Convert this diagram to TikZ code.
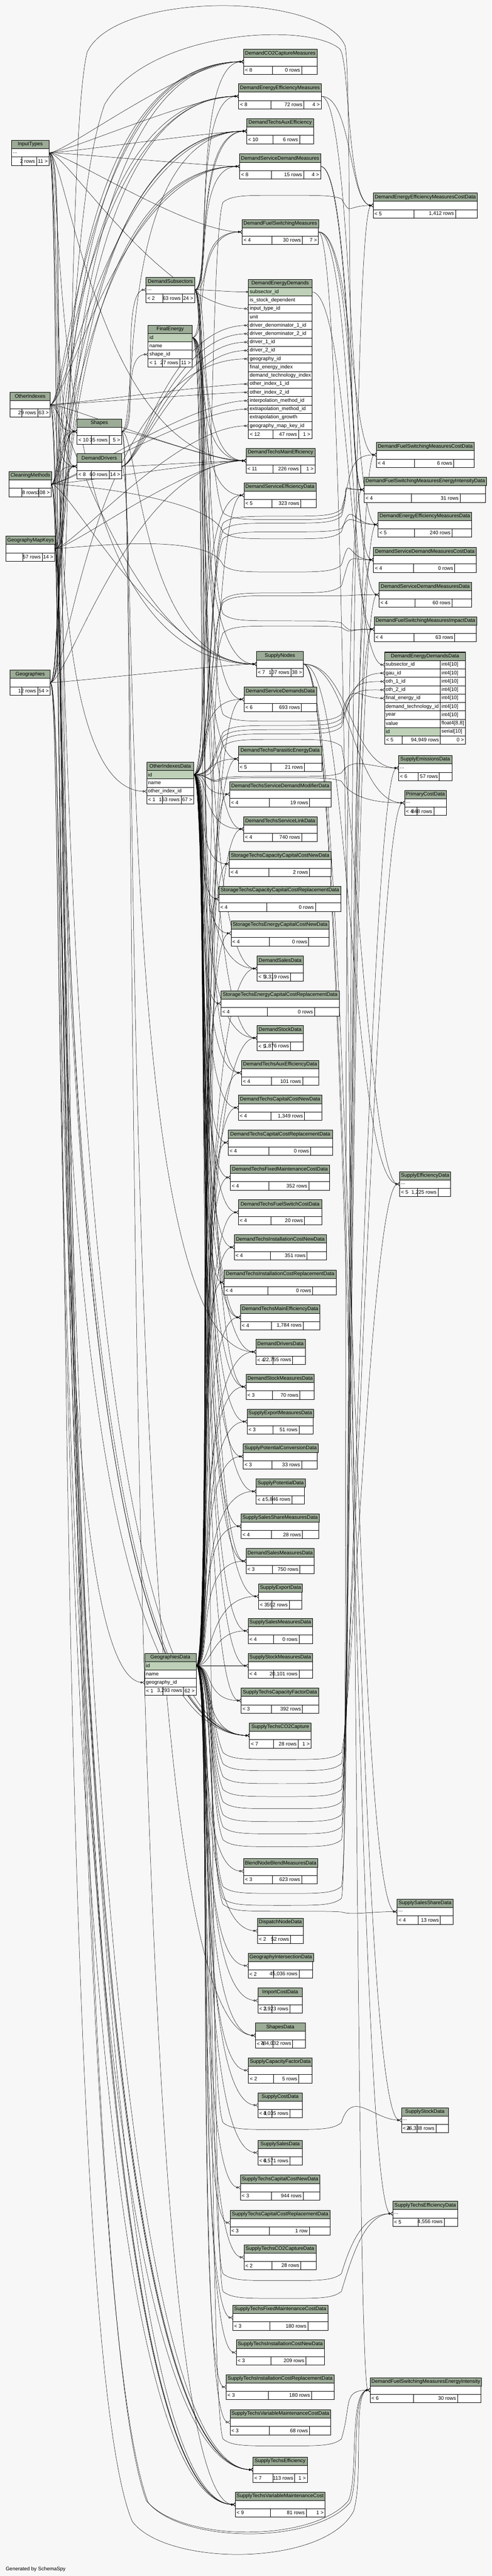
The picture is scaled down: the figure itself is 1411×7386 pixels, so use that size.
\documentclass[tikz,border=0pt]{standalone}
\usepackage{fontspec}
\setmainfont{Liberation Sans}
\usetikzlibrary{positioning,calc,arrows.meta}

\definecolor{hdrgreen}{HTML}{9BAB96}
\definecolor{keygreen}{HTML}{BED1B8}
\definecolor{pagebg}{HTML}{F7F7F7}

\newcommand{\tblfont}{\fontsize{11}{13}\selectfont}
\newcommand{\colcell}[2]{\makebox[#1][l]{#2}}
\newlength{\ftw}

\pgfdeclarelayer{bg}
\pgfdeclarelayer{links}
\pgfsetlayers{bg,links,main}

\tikzset{
  tbl/.style={draw=black, line width=0.6pt, inner xsep=3pt, inner ysep=0pt, outer sep=0pt,
    minimum height=18pt, font=\tblfont, anchor=north west},
  tblhead/.style={tbl, fill=hdrgreen},
  tblbody/.style={tbl, fill=white},
  tblkey/.style={tbl, fill=keygreen},
  fkline/.style={line width=0.55pt, -{Circle[open,length=4.5pt,width=4.5pt,line width=0.6pt]Straight Barb[reversed,length=4pt,width=7pt,line width=0.6pt]}},
  fkone/.style={line width=0.55pt, -{Circle[open,length=4.5pt,width=4.5pt,line width=0.6pt]Bar[width=7pt,line width=0.8pt]}}
}

% footer row: name, node above, width (px), left, rows, right
\newcommand{\dbfoot}[6]{%
  \settowidth{\ftw}{\tblfont #5}%
  \pgfmathsetmacro{\rwid}{max(36,0.21*#3)}%
  \pgfmathsetmacro{\mwid}{max(0.4*#3,\ftw/0.75+12)}%
  \node[tblbody, minimum width={#3*0.75pt}] (#1) at (#2.south west) {};
  \draw[line width=0.6pt] ($(#1.north east)+(-\rwid,0)$) -- ($(#1.south east)+(-\rwid,0)$);
  \draw[line width=0.6pt] ($(#1.north east)+(-\rwid-\mwid,0)$) -- ($(#1.south east)+(-\rwid-\mwid,0)$);
  \node[anchor=west, inner sep=0pt, font=\tblfont] (#1l) at ($(#1.west)+(4,0)$) {#4};
  \node[anchor=east, inner sep=0pt, font=\tblfont] (#1m) at ($(#1.east)+(-\rwid-4,0)$) {#5};
  \node[anchor=east, inner sep=0pt, font=\tblfont] (#1n) at ($(#1.east)+(-4,0)$) {#6};}

% table: name, x, y, width (px), title, body, left, rows, right
\newcommand{\dbtable}[9]{%
  \pgfmathsetmacro{\tblw}{#4*0.75-6}%
  \node[tblhead, minimum width={#4*0.75pt}] (#1) at (#2,#3) {#5};
  \node[tblbody] (#1r) at (#1.south west) {\colcell{\tblw pt}{#6}};
  \dbfoot{#1f}{#1r}{#4}{#7}{#8}{#9}}

% foreign keys
\newcommand{\fk}[3][fkline]{%
  \draw[#1] let \p1=(#2), \p2=(#3),
    \n1={min(0.8*(\x2-\x1)/0.75,0.3*abs(\y2-\y1)/0.75+50)} in
    (\p1) .. controls +(50,0) and +(-\n1,0) .. (\p2);}
\newcommand{\fkc}[4]{\draw[fkline] (#1) .. controls +(#3,0) and +(-#4,0) .. (#2);}
\newcommand{\fkvia}[5]{%
  \draw[fkline] (#1) .. controls +(50,0) and (600,#3+#4*120) .. (640,#3+#4*20)
    .. controls (665,#3) and (700,#3) .. (810,#3)
    .. controls (920,#3) and (955,#3) .. (980,#3+#5*20)
    .. controls (1010,#3+#5*120) and +(-80,0) .. (#2);}

\begin{document}
\begin{tikzpicture}[x=0.75pt,y=-0.75pt]
\useasboundingbox (0,0) rectangle (1411,7386);
\begin{pgfonlayer}{bg}
  \fill[pagebg] (0,0) rectangle (1411,7386);
\end{pgfonlayer}

% left side
\dbtable{it}{33}{402}{108}{InputTypes}{...}{}{2 rows}{11 >}
\dbtable{dsub}{419}{795}{140}{DemandSubsectors}{...}{< 2}{63 rows}{24 >}
\dbtable{oi}{29}{1124}{115}{OtherIndexes}{}{}{29 rows}{63 >}
\dbtable{sh}{221}{1201}{128}{Shapes}{}{< 10}{35 rows}{5 >}
\dbtable{dd}{221}{1301}{128}{DemandDrivers}{}{< 8}{60 rows}{14 >}
\dbtable{cm}{26}{1352}{121}{CleaningMethods}{}{}{8 rows}{108 >}
\dbtable{gmk}{17}{1537}{140}{GeographyMapKeys}{}{}{57 rows}{14 >}
\dbtable{geo}{29}{1921}{115}{Geographies}{}{}{12 rows}{54 >}

\node[tblhead, minimum width=95.25pt] (fe) at (425,932) {FinalEnergy};
\node[tblkey, below=0pt of fe] (feid) {\colcell{89.25pt}{id}};
\node[tblbody, below=0pt of feid] (fename) {\colcell{89.25pt}{name}};
\node[tblbody, below=0pt of fename] (feshape) {\colcell{89.25pt}{shape\_id}};
\dbfoot{fef}{feshape}{127}{< 1}{27 rows}{11 >}

\node[tblhead, minimum width=101.25pt] (oid) at (421,2185) {OtherIndexesData};
\node[tblkey, below=0pt of oid] (oidid) {\colcell{95.25pt}{id}};
\node[tblbody, below=0pt of oidid] (oidname) {\colcell{95.25pt}{name}};
\node[tblbody, below=0pt of oidname] (oidoi) {\colcell{95.25pt}{other\_index\_id}};
\dbfoot{oidf}{oidoi}{135}{< 1}{163 rows}{67 >}

\node[tblhead, minimum width=111pt] (gd) at (415,4740) {GeographiesData};
\node[tblkey, below=0pt of gd] (gdid) {\colcell{105pt}{id}};
\node[tblbody, below=0pt of gdid] (gdname) {\colcell{105pt}{name}};
\node[tblbody, below=0pt of gdname] (gdgeo) {\colcell{105pt}{geography\_id}};
\dbfoot{gdf}{gdgeo}{148}{< 1}{3,293 rows}{62 >}

% middle column
\dbtable{co2m}{699}{141}{211}{DemandCO2CaptureMeasures}{}{< 8}{0 rows}{}
\dbtable{eem}{685}{240}{237}{DemandEnergyEfficiencyMeasures}{}{< 8}{72 rows}{4 >}
\dbtable{tae}{708}{340}{192}{DemandTechsAuxEfficiency}{}{< 10}{6 rows}{}
\dbtable{sdm}{688}{441}{232}{DemandServiceDemandMeasures}{}{< 8}{15 rows}{4 >}
\dbtable{fsm}{695}{629}{219}{DemandFuelSwitchingMeasures}{}{< 4}{30 rows}{7 >}

\node[tblhead, minimum width=136.5pt] (ed) at (713,801) {DemandEnergyDemands};
\node[tblkey, below=0pt of ed] (edsub) {\colcell{130.5pt}{subsector\_id}};
\node[tblbody, below=0pt of edsub] (edstock) {\colcell{130.5pt}{is\_stock\_dependent}};
\node[tblbody, below=0pt of edstock] (edinput) {\colcell{130.5pt}{input\_type\_id}};
\node[tblbody, below=0pt of edinput] (edunit) {\colcell{130.5pt}{unit}};
\node[tblbody, below=0pt of edunit] (eddn1) {\colcell{130.5pt}{driver\_denominator\_1\_id}};
\node[tblbody, below=0pt of eddn1] (eddn2) {\colcell{130.5pt}{driver\_denominator\_2\_id}};
\node[tblbody, below=0pt of eddn2] (eddr1) {\colcell{130.5pt}{driver\_1\_id}};
\node[tblbody, below=0pt of eddr1] (eddr2) {\colcell{130.5pt}{driver\_2\_id}};
\node[tblbody, below=0pt of eddr2] (edgeo) {\colcell{130.5pt}{geography\_id}};
\node[tblbody, below=0pt of edgeo] (edfei) {\colcell{130.5pt}{final\_energy\_index}};
\node[tblbody, below=0pt of edfei] (eddti) {\colcell{130.5pt}{demand\_technology\_index}};
\node[tblbody, below=0pt of eddti] (edoi1) {\colcell{130.5pt}{other\_index\_1\_id}};
\node[tblbody, below=0pt of edoi1] (edoi2) {\colcell{130.5pt}{other\_index\_2\_id}};
\node[tblbody, below=0pt of edoi2] (edinterp) {\colcell{130.5pt}{interpolation\_method\_id}};
\node[tblbody, below=0pt of edinterp] (edextrap) {\colcell{130.5pt}{extrapolation\_method\_id}};
\node[tblbody, below=0pt of edextrap] (edgrowth) {\colcell{130.5pt}{extrapolation\_growth}};
\node[tblbody, below=0pt of edgrowth] (edgmk) {\colcell{130.5pt}{geography\_map\_key\_id}};
\dbfoot{edf}{edgmk}{182}{< 12}{47 rows}{1 >}

\dbtable{tme}{706}{1285}{198}{DemandTechsMainEfficiency}{}{< 11}{226 rows}{1 >}
\dbtable{sed}{700}{1384}{207}{DemandServiceEfficiencyData}{}{< 5}{323 rows}{}
\dbtable{sn}{736}{1868}{135}{SupplyNodes}{}{< 7}{107 rows}{38 >}
\dbtable{sdd}{700}{1969}{209}{DemandServiceDemandsData}{}{< 6}{693 rows}{}
\dbtable{tped}{684}{2140}{240}{DemandTechsParasiticEnergyData}{}{< 5}{21 rows}{}
\dbtable{tsdm}{659}{2241}{291}{DemandTechsServiceDemandModifierData}{}{< 4}{19 rows}{}
\dbtable{tsl}{699}{2341}{211}{DemandTechsServiceLinkData}{}{< 4}{740 rows}{}
\dbtable{stccn}{658}{2441}{292}{StorageTechsCapacityCapitalCostNewData}{}{< 4}{2 rows}{}
\dbtable{stccr}{628}{2541}{351}{StorageTechsCapacityCapitalCostReplacementData}{}{< 4}{0 rows}{}
\dbtable{stecn}{663}{2640}{282}{StorageTechsEnergyCapitalCostNewData}{}{< 4}{0 rows}{}
\dbtable{sales}{738}{2741}{132}{DemandSalesData}{}{< 5}{3,319 rows}{}
\dbtable{stecr}{634}{2841}{340}{StorageTechsEnergyCapitalCostReplacementData}{}{< 4}{0 rows}{}
\dbtable{stock}{738}{2940}{132}{DemandStockData}{}{< 5}{1,876 rows}{}
\dbtable{taed}{693}{3040}{222}{DemandTechsAuxEfficiencyData}{}{< 4}{101 rows}{}
\dbtable{tccn}{684}{3140}{240}{DemandTechsCapitalCostNewData}{}{< 4}{1,349 rows}{}
\dbtable{tccr}{655}{3240}{299}{DemandTechsCapitalCostReplacementData}{}{< 4}{0 rows}{}
\dbtable{tfmc}{661}{3340}{285}{DemandTechsFixedMaintenanceCostData}{}{< 4}{352 rows}{}
\dbtable{tfsc}{684}{3440}{240}{DemandTechsFuelSwitchCostData}{}{< 4}{20 rows}{}
\dbtable{ticn}{672}{3540}{265}{DemandTechsInstallationCostNewData}{}{< 4}{351 rows}{}
\dbtable{ticr}{643}{3641}{322}{DemandTechsInstallationCostReplacementData}{}{< 4}{0 rows}{}
\dbtable{tmed}{690}{3741}{228}{DemandTechsMainEfficiencyData}{}{< 4}{1,784 rows}{}
\dbtable{ddd}{734}{3840}{142}{DemandDriversData}{}{< 4}{22,755 rows}{}
\dbtable{smd}{706}{3940}{196}{DemandStockMeasuresData}{}{< 3}{70 rows}{}
\dbtable{semd}{709}{4040}{189}{SupplyExportMeasuresData}{}{< 3}{51 rows}{}
\dbtable{spcd}{698}{4140}{212}{SupplyPotentialConversionData}{}{< 3}{33 rows}{}
\dbtable{spd}{735}{4240}{139}{SupplyPotentialData}{}{< 4}{5,846 rows}{}
\dbtable{sssmd}{692}{4340}{223}{SupplySalesShareMeasuresData}{}{< 4}{28 rows}{}
\dbtable{dsmd}{706}{4440}{196}{DemandSalesMeasuresData}{}{< 3}{750 rows}{}
\dbtable{sxd}{742}{4541}{124}{SupplyExportData}{}{< 3}{592 rows}{}
\dbtable{ssmd}{712}{4640}{185}{SupplySalesMeasuresData}{}{< 4}{0 rows}{}
\dbtable{sstmd}{712}{4740}{185}{SupplyStockMeasuresData}{}{< 4}{20,101 rows}{}
\dbtable{stcfd}{692}{4840}{223}{SupplyTechsCapacityFactorData}{}{< 3}{392 rows}{}
\dbtable{stco2}{716}{4940}{177}{SupplyTechsCO2Capture}{}{< 7}{28 rows}{1 >}
\dbtable{bnbmd}{699}{5329}{211}{BlendNodeBlendMeasuresData}{}{< 3}{623 rows}{}
\dbtable{dnd}{739}{5500}{131}{DispatchNodeData}{}{< 2}{52 rows}{}
\dbtable{gid}{712}{5600}{185}{GeographyIntersectionData}{}{< 2}{45,036 rows}{}
\dbtable{icd}{740}{5700}{128}{ImportCostData}{}{< 3}{2,923 rows}{}
\dbtable{shd}{733}{5800}{143}{ShapesData}{}{< 4}{784,032 rows}{}
\dbtable{scfd}{713}{5900}{183}{SupplyCapacityFactorData}{}{< 2}{5 rows}{}
\dbtable{scd}{740}{6000}{128}{SupplyCostData}{}{< 3}{4,035 rows}{}
\dbtable{ssd}{740}{6136}{128}{SupplySalesData}{}{< 4}{6,571 rows}{}
\dbtable{stccnd}{690}{6236}{228}{SupplyTechsCapitalCostNewData}{}{< 3}{944 rows}{}
\dbtable{stccrd}{660}{6337}{288}{SupplyTechsCapitalCostReplacementData}{}{< 3}{1 row}{}
\dbtable{stco2d}{700}{6436}{207}{SupplyTechsCO2CaptureData}{}{< 2}{28 rows}{}
\dbtable{stfmcd}{668}{6609}{273}{SupplyTechsFixedMaintenanceCostData}{}{< 3}{180 rows}{}
\dbtable{sticnd}{678}{6709}{253}{SupplyTechsInstallationCostNewData}{}{< 3}{209 rows}{}
\dbtable{sticrd}{649}{6808}{310}{SupplyTechsInstallationCostReplacementData}{}{< 3}{180 rows}{}
\dbtable{stvmcd}{660}{6909}{289}{SupplyTechsVariableMaintenanceCostData}{}{< 3}{68 rows}{}
\dbtable{ste}{726}{7045}{156}{SupplyTechsEfficiency}{}{< 7}{113 rows}{1 >}
\dbtable{stvmc}{675}{7145}{258}{SupplyTechsVariableMaintenanceCost}{}{< 9}{81 rows}{1 >}

% right column
\dbtable{eemcd}{1071}{553}{299}{DemandEnergyEfficiencyMeasuresCostData}{}{< 5}{1,412 rows}{}
\dbtable{fsmcd}{1080}{1268}{281}{DemandFuelSwitchingMeasuresCostData}{}{< 4}{6 rows}{}
\dbtable{fsmeid}{1045}{1368}{349}{DemandFuelSwitchingMeasuresEnergyIntensityData}{}{< 4}{31 rows}{}
\dbtable{eemd}{1085}{1468}{269}{DemandEnergyEfficiencyMeasuresData}{}{< 5}{240 rows}{}
\dbtable{sdmcd}{1072}{1569}{295}{DemandServiceDemandMeasuresCostData}{}{< 4}{0 rows}{}
\dbtable{sdmd}{1088}{1669}{265}{DemandServiceDemandMeasuresData}{}{< 4}{60 rows}{}
\dbtable{fsmid}{1074}{1768}{293}{DemandFuelSwitchingMeasuresImpactData}{}{< 4}{63 rows}{}

\node[tblhead, minimum width=174pt] (dedd) at (1104,1870) {DemandEnergyDemandsData};
\node[tblbody, inner xsep=2.5pt] (ddsub) at (dedd.south west) {\colcell{115pt}{subsector\_id}};
\node[tblbody, inner xsep=2.5pt, right=0pt of ddsub] (ddsubt) {\colcell{49pt}{int4[10]}};
\node[tblbody, inner xsep=2.5pt, below=0pt of ddsub] (ddgau) {\colcell{115pt}{gau\_id}};
\node[tblbody, inner xsep=2.5pt, right=0pt of ddgau] (ddgaut) {\colcell{49pt}{int4[10]}};
\node[tblbody, inner xsep=2.5pt, below=0pt of ddgau] (ddoth1) {\colcell{115pt}{oth\_1\_id}};
\node[tblbody, inner xsep=2.5pt, right=0pt of ddoth1] (ddoth1t) {\colcell{49pt}{int4[10]}};
\node[tblbody, inner xsep=2.5pt, below=0pt of ddoth1] (ddoth2) {\colcell{115pt}{oth\_2\_id}};
\node[tblbody, inner xsep=2.5pt, right=0pt of ddoth2] (ddoth2t) {\colcell{49pt}{int4[10]}};
\node[tblbody, inner xsep=2.5pt, below=0pt of ddoth2] (ddfe) {\colcell{115pt}{final\_energy\_id}};
\node[tblbody, inner xsep=2.5pt, right=0pt of ddfe] (ddfet) {\colcell{49pt}{int4[10]}};
\node[tblbody, inner xsep=2.5pt, below=0pt of ddfe] (ddtech) {\colcell{115pt}{demand\_technology\_id}};
\node[tblbody, inner xsep=2.5pt, right=0pt of ddtech] (ddtecht) {\colcell{49pt}{int4[10]}};
\node[tblbody, inner xsep=2.5pt, below=0pt of ddtech] (ddyear) {\colcell{115pt}{year}};
\node[tblbody, inner xsep=2.5pt, right=0pt of ddyear] (ddyeart) {\colcell{49pt}{int4[10]}};
\node[tblbody, inner xsep=2.5pt, below=0pt of ddyear] (ddval) {\colcell{115pt}{value}};
\node[tblbody, inner xsep=2.5pt, right=0pt of ddval] (ddvalt) {\colcell{49pt}{float4[8,8]}};
\node[tblkey, inner xsep=2.5pt, below=0pt of ddval] (ddid) {\colcell{115pt}{id}};
\node[tblbody, inner xsep=2.5pt, right=0pt of ddid] (ddidt) {\colcell{49pt}{serial[10]}};
\node[tblbody, minimum width=174pt] (ddfoot) at (ddid.south west) {};
\draw[line width=0.6pt] ($(ddfoot.north west)+(50,0)$) -- ($(ddfoot.south west)+(50,0)$);
\draw[line width=0.6pt] ($(ddfoot.north west)+(160,0)$) -- ($(ddfoot.south west)+(160,0)$);
\node[anchor=west, inner sep=0pt, font=\tblfont] (ddfootl) at ($(ddfoot.west)+(4,0)$) {< 5};
\node[anchor=east, inner sep=0pt, font=\tblfont] (ddfootm) at ($(ddfoot.west)+(156,0)$) {94,949 rows};
\node[anchor=east, inner sep=0pt, font=\tblfont] (ddfootn) at ($(ddfoot.east)+(-4,0)$) {0 >};
\draw[line width=1.6pt] (dedd.north west) rectangle (ddfoot.south east);

\dbtable{sem}{1144}{2166}{153}{SupplyEmissionsData}{...}{< 6}{57 rows}{}
\dbtable{pcd}{1161}{2266}{120}{PrimaryCostData}{...}{< 4}{848 rows}{}
\dbtable{sefd}{1147}{3359}{146}{SupplyEfficiencyData}{...}{< 5}{1,225 rows}{}
\dbtable{sssd}{1140}{5445}{160}{SupplySalesShareData}{...}{< 4}{13 rows}{}
\dbtable{sstd}{1152}{6043}{135}{SupplyStockData}{...}{< 4}{26,338 rows}{}
\dbtable{stefd}{1127}{6311}{187}{SupplyTechsEfficiencyData}{...}{< 5}{4,556 rows}{}
\dbtable{fsmei}{1062}{6817}{318}{DemandFuelSwitchingMeasuresEnergyIntensity}{}{< 6}{30 rows}{}

\node[anchor=west, inner sep=0pt, font=\tblfont] (gen) at (16,7367) {Generated by SchemaSpy};

\begin{pgfonlayer}{links}
% lookup tables on the left
\foreach \src in {it,oi,cm,gmk,geo} {\fk{\src r.east}{shr.west} \fk{\src r.east}{ddr.west}}
\fk{shr.east}{feshape.west}
\fk{shr.east}{dsubr.west}
\fk{oir.east}{oidoi.west}
\fk{geor.east}{gdgeo.west}

% DemandEnergyDemands columns
\fk[fkone]{dsubr.east}{edsub.west}
\fk{itr.east}{edinput.west}
\foreach \dst in {eddn1,eddn2,eddr1,eddr2} {\fk{ddr.east}{\dst.west}}
\fk{geor.east}{edgeo.west}
\fk{oir.east}{edoi1.west}
\fk{oir.east}{edoi2.west}
\fk{cmr.east}{edinterp.west}
\fk{cmr.east}{edextrap.west}
\fk{gmkr.east}{edgmk.west}

% measures and techs
\foreach \dst in {co2m,eem,tae,sdm,fsm,tme,sn,stco2,ste,stvmc} {\fk{itr.east}{\dst r.west}}
\foreach \dst in {co2m,eem,tae,sdm,fsm,tme} {\fk{dsubr.east}{\dst r.west}}
\foreach \dst in {co2m,eem,tae,sdm,tme,sn,stco2,ste,stvmc} {\fk{geor.east}{\dst r.west} \fk{cmr.east}{\dst r.west} \fk{oir.east}{\dst r.west}}
\foreach \dst in {co2m,tme,stco2,ste,stvmc} {\fk{gmkr.east}{\dst r.west}}
\foreach \dst in {tae,tme,sn,stvmc} {\fk{shr.east}{\dst r.west}}
\fk{ddr.east}{tmer.west}
\foreach \dst in {tae,fsm,tme,sn,sed,tped,taed,tmed} {\fk{feid.east}{\dst r.west}}
\foreach \dst in {sdd,sales,stock,smd,dsmd,tsl} {\fk{dsubr.east}{\dst r.west}}
\fk{ddr.east}{dddr.west}
\fk{shr.east}{shdr.west}

% data tables
\foreach \dst in {sed,sdd,tped,tsdm,tsl,stccn,stccr,stecn,sales,stecr,stock,taed,tccn,tccr,tfmc,tfsc,ticn,ticr,tmed,ddd,smd,semd,spcd,spd,sssmd,dsmd,sxd,ssmd,sstmd,stcfd,stco2,bnbmd,dnd,gid,icd,shd,scfd,scd,ssd,stccnd,stccrd,stco2d,stfmcd,sticnd,sticrd,stvmcd} {\fk{gdid.east}{\dst r.west}}
\foreach \dst in {sed,sdd,tped,tsdm,tsl,stccn,stccr,stecn,sales,stecr,stock,taed,tccn,tccr,tfmc,tfsc,ticn,ticr,tmed,ddd,smd,semd,spcd,spd,sssmd,dsmd,sxd,ssmd,sstmd,stcfd} {\fk{oidid.east}{\dst r.west}}

% middle to right
\fkc{eemr.east}{eemcdr.west}{90}{70}
\fkc{eemr.east}{eemdr.west}{90}{80}
\fkc{sdmr.east}{sdmcdr.west}{95}{70}
\fkc{sdmr.east}{sdmdr.west}{95}{85}
\fkc{fsmr.east}{fsmcdr.west}{100}{75}
\fkc{fsmr.east}{fsmeidr.west}{100}{40}
\fkc{fsmr.east}{fsmidr.west}{100}{70}
\fkc{fsmr.east}{fsmeir.west}{110}{50}
\fkc{edsub.east}{ddsub.west}{110}{100}
\foreach \dst/\cc in {sem/140,pcd/150,sefd/140,sssd/130,sstd/140,stefd/110} {\fkc{snr.east}{\dst r.west}{135}{\cc}}

% long links through the gaps
\fkvia{oidid.east}{ddoth1.west}{2080}{1}{-1}
\fkvia{oidid.east}{ddoth2.west}{2092}{1}{-1}
\fkvia{gdid.east}{ddgau.west}{2104}{1}{-1}
\fkvia{feid.east}{ddfe.west}{2068}{-1}{-1}
\fkvia{oidid.east}{semr.west}{2226}{0.2}{-0.5}
\fkvia{oidid.east}{pcdr.west}{2230}{0.2}{0.5}
\fkvia{oidid.east}{sefdr.west}{2120}{1}{1}
\fkvia{oidid.east}{eemcdr.west}{560}{1}{0.5}
\fkvia{oidid.east}{fsmcdr.west}{1480}{1}{-1}
\fkvia{oidid.east}{fsmeidr.west}{1500}{1}{-1}
\fkvia{oidid.east}{eemdr.west}{1525}{1}{-0.5}
\fkvia{oidid.east}{sdmcdr.west}{1700}{1}{-1}
\fkvia{oidid.east}{sdmdr.west}{1708}{1}{0}
\fkvia{oidid.east}{fsmidr.west}{1795}{1}{0.2}
\fkvia{feid.east}{fsmeidr.west}{1490}{-1}{-1}
\fkvia{feid.east}{fsmidr.west}{1780}{-1}{0.3}
\fkvia{cmr.east}{eemdr.west}{1545}{-1}{-1}
\fkvia{gmkr.east}{sdmcdr.west}{1640}{-1}{-1}
\foreach \dst/\g in {sefd/5045,pcd/5077,sem/5114,fsmid/5151,sdmd/5186,sdmcd/5223,eemd/5258,fsmeid/5295,fsmcd/5429,eemcd/5463,sstd/6106,stefd/6539,fsmei/7013} {\fkvia{gdid.east}{\dst r.west}{\g}{-1}{-1}}
\fkvia{gdid.east}{sssdr.west}{5480}{-1}{0.1}
\fkvia{oidid.east}{stefdr.west}{6590}{-1}{-1}

% over the top and under the bottom
\draw[fkline] (geor.east) .. controls (215,1957) and (190,400) .. (250,150) .. controls (330,-25) and (920,-25) .. (990,130) .. controls (1012,200) and (990,1404) .. (fsmeidr.west);
\draw[fkline] (cmr.east) .. controls (215,1388) and (195,600) .. (300,300) .. controls (420,90) and (880,60) .. (975,140) .. controls (1005,170) and (995,589) .. (eemcdr.west);
\draw[fkline] (itr.east) .. controls (200,438) and (170,6500) .. (420,7170) .. controls (520,7290) and (900,7290) .. (1000,7170) .. controls (1030,7100) and (1000,6853) .. (fsmeir.west);
\draw[fkline] (cmr.east) .. controls (205,1388) and (175,6500) .. (425,7175) .. controls (525,7295) and (905,7295) .. (1005,7175) .. controls (1035,7100) and (1005,6853) .. (fsmeir.west);
\draw[fkline] (geor.east) .. controls (200,1957) and (150,6700) .. (380,7230) .. controls (480,7360) and (930,7360) .. (1015,7200) .. controls (1045,7100) and (1010,6853) .. (fsmeir.west);
\end{pgfonlayer}
\end{tikzpicture}
\end{document}
